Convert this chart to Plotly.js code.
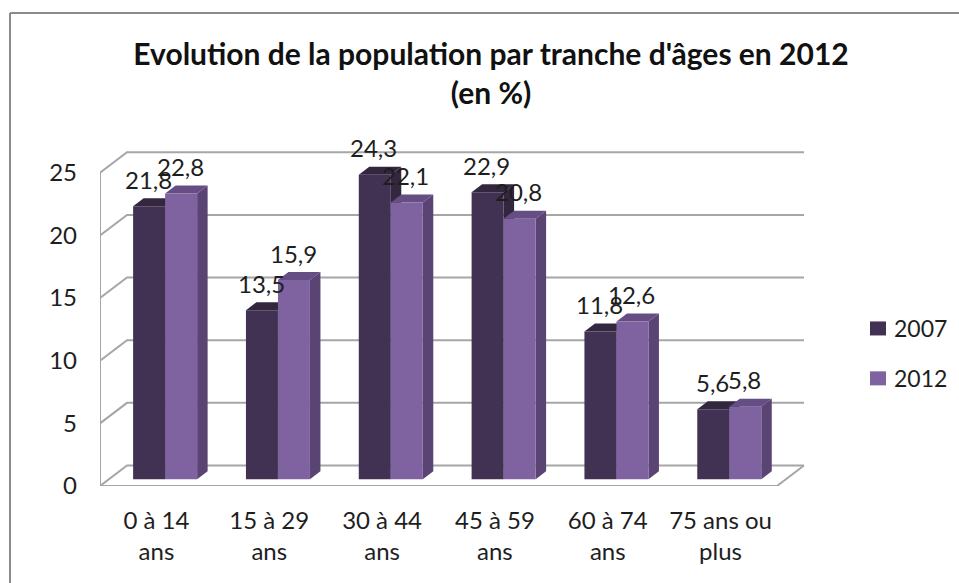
<!DOCTYPE html>
<html><head><meta charset="utf-8">
<script src="https://cdn.plot.ly/plotly-3.0.1.min.js"></script>
<style>html,body{margin:0;padding:0;background:#fff}</style>
</head><body><div id="chart" style="width:959px;height:583px"></div>
<script>
const categories = ["0 à 14<br>ans","15 à 29<br>ans","30 à 44<br>ans","45 à 59<br>ans","60 à 74<br>ans","75 ans ou<br>plus"];
const values2007 = [21.8,13.5,24.3,22.9,11.8,5.6];
const values2012 = [22.8,15.9,22.1,20.8,12.6,5.8];
const yTicks = [0,5,10,15,20,25];

const W=959,H=583,L=100,R=959,T=140,B=486;
const pxX=112.83, pxY=12.53;
const wallDx=27/pxX, wallDy=20.5/pxY;
const barW=32/pxX, barShift=8.7/pxX, barBase=6.7/pxY, depthX=10.5/pxX, depthY=8/pxY;
const xMin=-0.5, xMax=xMin+(R-L)/pxX, yMax=(B-T)/pxY, frontEnd=5.5;
const idx=categories.map((_,i)=>i);
const FONT='Lato', TXT='#1e1e1e', GRID='#a6a6a6';
const C07={front:'#413152',top:'#33263f',side:'#33263f'};
const C12={front:'#7f63a1',top:'#654e84',side:'#5a4473'};

const shapes=[];
yTicks.forEach(v=>{
  shapes.push({type:'path',xref:'x',yref:'y',layer:'below',line:{color:GRID,width:2},
    path:`M${xMin},${v} L${xMin+wallDx},${v+wallDy} L${frontEnd+wallDx},${v+wallDy}`});
});
shapes.push({type:'line',xref:'x',yref:'y',layer:'below',line:{color:GRID,width:2},x0:xMin,x1:xMin,y0:0,y1:25});
shapes.push({type:'path',xref:'x',yref:'y',layer:'below',line:{color:GRID,width:2},
  path:`M${xMin},0 L${frontEnd},0 L${frontEnd+wallDx},${wallDy}`});
function faces(vals,x0,col){
  vals.forEach((v,i)=>{
    const a=i+x0,b=a+barW,t=v+barBase;
    shapes.push({type:'path',xref:'x',yref:'y',layer:'below',line:{width:0},fillcolor:col.side,
      path:`M${b},${barBase} L${b+depthX},${barBase+depthY} L${b+depthX},${t+depthY} L${b},${t} Z`});
    shapes.push({type:'path',xref:'x',yref:'y',layer:'below',line:{width:0},fillcolor:col.top,
      path:`M${a},${t} L${a+depthX},${t+depthY} L${b+depthX},${t+depthY} L${b},${t} Z`});
  });
}
faces(values2007,barShift-barW,C07);
faces(values2012,barShift,C12);
const px=x=>(x-L)/(R-L), py=y=>(B-y)/(B-T);
shapes.push({type:'line',xref:'paper',yref:'paper',line:{color:'#8a8a8a',width:2},x0:px(10),x1:px(959),y0:py(13),y1:py(13)});
shapes.push({type:'line',xref:'paper',yref:'paper',line:{color:'#8a8a8a',width:2},x0:px(10),x1:px(10),y0:py(13),y1:py(583)});

const annotations=[];
function labels(vals,x0){
  vals.forEach((v,i)=>annotations.push({xref:'x',yref:'y',x:i+x0+barW/2-0.008,y:v+barBase,yshift:27,xanchor:'center',yanchor:'middle',
    showarrow:false,text:String(v).replace('.',','),font:{family:FONT,size:24,color:TXT}}));
}
labels(values2007,barShift-barW);
labels(values2012,barShift);

const common={type:'bar',x:idx,base:barBase,width:barW,hoverinfo:'skip',cliponaxis:false};
const traces=[
 Object.assign({},common,{name:'2007',y:values2007,offset:barShift-barW,marker:{color:C07.front},legendgroup:'a'}),
 Object.assign({},common,{name:'2012',y:values2012,offset:barShift,marker:{color:C12.front},legendgroup:'b'})
];
const layout={
 width:W,height:H,margin:{l:L,r:W-R,t:T,b:H-B,pad:0},
 paper_bgcolor:'#fff',plot_bgcolor:'rgba(0,0,0,0)',barmode:'overlay',
 font:{family:FONT,color:TXT,size:24},
 title:{text:"<b>Evolution de la population par tranche d'âges en 2012<br>(en %)</b>",
   x:491/W,xanchor:'center',y:1-65/H,yanchor:'top',yref:'container',
   font:{family:FONT,size:30,color:'#111'}},
 xaxis:{range:[xMin,xMax],tickmode:'array',tickvals:idx,ticktext:categories,showgrid:false,zeroline:false,showline:false,ticks:'',
   ticklabelstandoff:18,tickfont:{family:FONT,size:24,color:TXT}},
 yaxis:{range:[0,yMax],tickmode:'array',tickvals:yTicks,ticktext:yTicks.map(String),showgrid:false,zeroline:false,showline:false,ticks:'',
   ticklabelstandoff:22,tickfont:{family:FONT,size:24,color:TXT}},
 legend:{x:px(854),y:py(307),xanchor:'left',yanchor:'top',traceorder:'grouped',tracegroupgap:17,itemwidth:30,
   font:{family:FONT,size:23,color:TXT},bgcolor:'rgba(0,0,0,0)'},
 showlegend:true,shapes,annotations
};
Plotly.newPlot('chart',traces,layout,{displayModeBar:false,staticPlot:true}).then(()=>{
  document.querySelectorAll('.legend .legendpoints path').forEach(p=>p.setAttribute('d','M12,7H-4V-7H12Z'));
});
</script></body></html>
